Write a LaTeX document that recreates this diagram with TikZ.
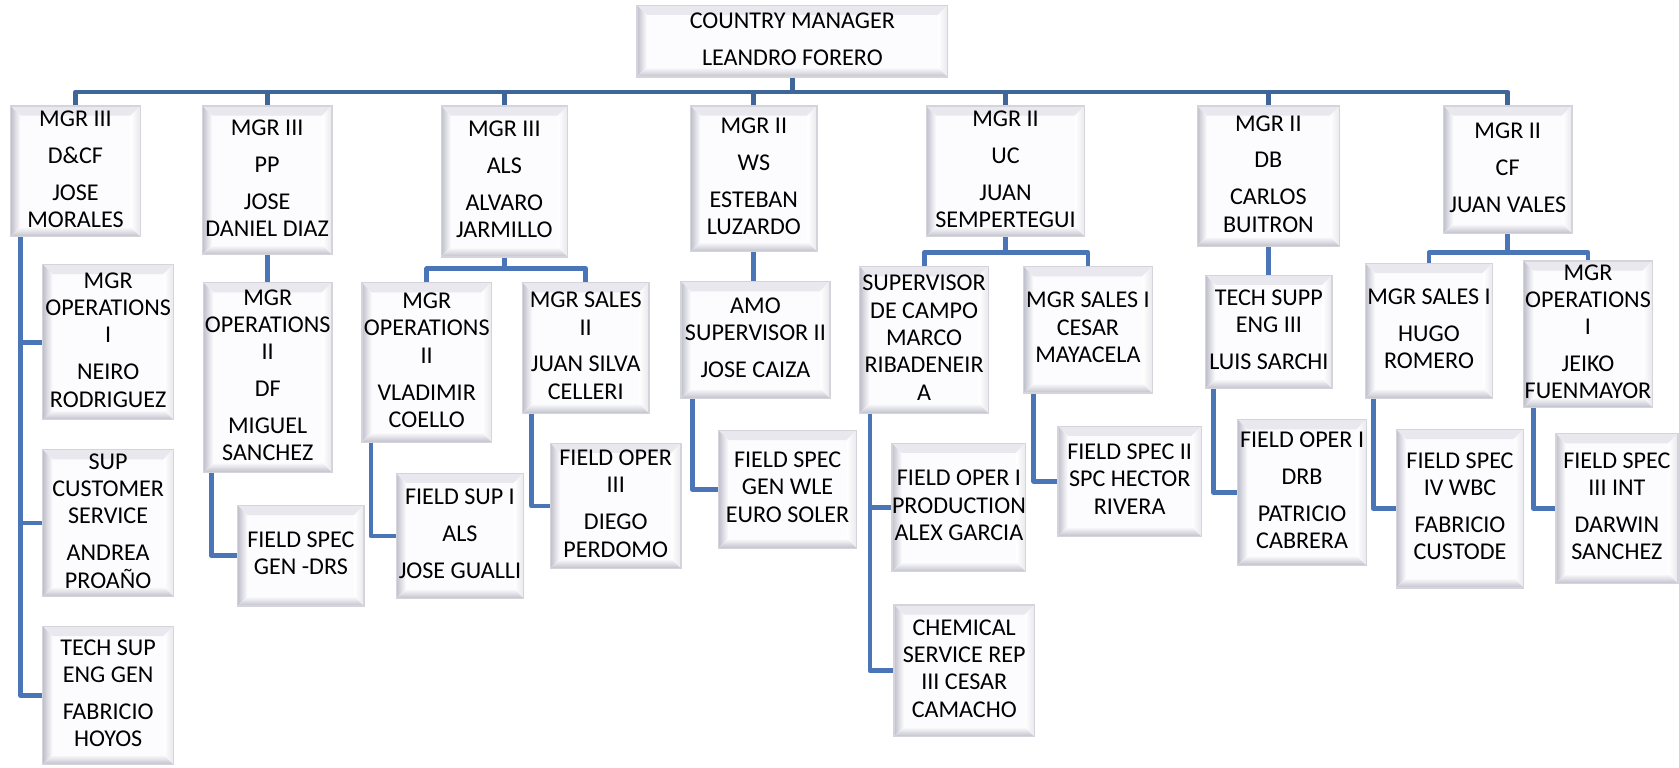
\documentclass[tikz,border=0pt]{standalone}
\usepackage{fontspec}
\setmainfont{Carlito}
\usetikzlibrary{calc}
\definecolor{bev}{RGB}{192,192,204}
\definecolor{bevlight}{RGB}{232,232,238}
\definecolor{busblue}{RGB}{62,102,152}
\definecolor{linkblue}{RGB}{74,118,184}
\definecolor{boxfill}{RGB}{252,252,254}
\definecolor{boxedge}{RGB}{212,212,218}
\tikzset{
  orgbox/.style={draw=boxedge, line width=1.2pt, fill=boxfill, inner sep=0pt,
    font=\fontsize{22.5}{25.5}\selectfont,
    path picture={
      \fill[bevlight] (path picture bounding box.north west) -- (path picture bounding box.north east)
        -- ([xshift=-9pt,yshift=-9pt]path picture bounding box.north east)
        -- ([xshift=9pt,yshift=-9pt]path picture bounding box.north west) -- cycle;
      \fill[left color=white, right color=bevlight] (path picture bounding box.north east) -- (path picture bounding box.south east)
        -- ([xshift=-9pt,yshift=9pt]path picture bounding box.south east)
        -- ([xshift=-9pt,yshift=-9pt]path picture bounding box.north east) -- cycle;
      \fill[left color=bev, right color=boxfill] (path picture bounding box.south west)
        -- ([xshift=9pt,yshift=9pt]path picture bounding box.south west)
        -- ([xshift=9pt,yshift=-9pt]path picture bounding box.north west)
        -- (path picture bounding box.north west) -- cycle;
      \fill[bottom color=bev, top color=boxfill] (path picture bounding box.south west)
        -- (path picture bounding box.south east)
        -- ([xshift=-9pt,yshift=9pt]path picture bounding box.south east)
        -- ([xshift=9pt,yshift=9pt]path picture bounding box.south west) -- cycle;
    }},
  busline/.style={busblue, line width=4.5pt, line join=round},
  link/.style={linkblue, line width=4.5pt, line join=round},
}
\newcommand\orgbox[6]{%
  \pgfmathsetmacro\obw{#4-#2}%
  \pgfmathsetmacro\obh{#5-#3}%
  \pgfmathsetmacro\obx{(#2+#4)/2}%
  \pgfmathsetmacro\oby{(#3+#5)/2}%
  \node[orgbox, minimum width=\obw pt, minimum height=\obh pt] (#1) at (\obx,\oby)
    {\makebox[0pt][c]{\begin{tabular}{@{}c@{}}#6\end{tabular}}};%
}
\newcommand\pg{\\[9pt]}
\begin{document}
\begin{tikzpicture}[x=1pt,y=-1pt]
\useasboundingbox (0,0) rectangle (1568,717);
% top
\orgbox{top}{595}{5}{885}{72}{COUNTRY MANAGER\pg LEANDRO FORERO}
% level 1
\orgbox{A}{10}{99}{131}{221}{MGR III\pg D\&CF\pg JOSE\\ MORALES}
\orgbox{B}{189}{99}{310}{238}{MGR III\pg PP\pg JOSE\\ DANIEL DIAZ}
\orgbox{C}{412}{99}{530}{240}{MGR III\pg ALS\pg ALVARO\\ JARMILLO}
\orgbox{D}{645}{99}{763}{235}{MGR II\pg WS\pg ESTEBAN\\ LUZARDO}
\orgbox{E}{865}{99}{1013}{221}{MGR II\pg UC\pg JUAN\\ SEMPERTEGUI}
\orgbox{F}{1118}{99}{1251}{230}{MGR II\pg DB\pg CARLOS\\ BUITRON}
\orgbox{G}{1348}{99}{1468}{218}{MGR II\pg CF\pg JUAN VALES}
% level 2
\orgbox{A1}{40}{247}{162}{392}{MGR\\ OPERATIONS\\ I\pg NEIRO\\ RODRIGUEZ}
\orgbox{A2}{40}{420}{162}{557}{SUP\\ CUSTOMER\\ SERVICE\pg ANDREA\\ PROAÑO}
\orgbox{A3}{40}{585}{162}{714}{TECH SUP\\ ENG GEN\pg FABRICIO\\ HOYOS}
\orgbox{B1}{190}{264}{310}{441}{MGR\\ OPERATIONS\\ II\pg DF\pg MIGUEL\\ SANCHEZ}
\orgbox{B2}{222}{472}{340}{566}{FIELD SPEC\\ GEN -DRS}
\orgbox{C1}{338}{264}{459}{413}{MGR\\ OPERATIONS\\ II\pg VLADIMIR\\ COELLO}
\orgbox{C2}{488}{264}{606}{386}{MGR SALES\\ II\pg JUAN SILVA\\ CELLERI}
\orgbox{C3}{370}{442}{489}{559}{FIELD SUP I\pg ALS\pg JOSE GUALLI}
\orgbox{C4}{514}{414}{636}{531}{FIELD OPER\\ III\pg DIEGO\\ PERDOMO}
\orgbox{D1}{636}{263}{775}{372}{AMO\\ SUPERVISOR II\pg JOSE CAIZA}
\orgbox{D2}{671}{402}{800}{512}{FIELD SPEC\\ GEN WLE\\ EURO SOLER}
\orgbox{E1}{803}{249}{923}{386}{SUPERVISOR\\ DE CAMPO\\ MARCO\\ RIBADENEIR\\ A}
\orgbox{E2}{956}{249}{1076}{367}{MGR SALES I\\ CESAR\\ MAYACELA}
\orgbox{E3}{833}{414}{958}{534}{FIELD OPER I\\ PRODUCTION\\ ALEX GARCIA}
\orgbox{E4}{835}{565}{966}{688}{CHEMICAL\\ SERVICE REP\\ III CESAR\\ CAMACHO}
\orgbox{E5}{988}{398}{1122}{501}{FIELD SPEC II\\ SPC HECTOR\\ RIVERA}
\orgbox{F1}{1126}{257}{1244}{363}{TECH SUPP\\ ENG III\pg LUIS SARCHI}
\orgbox{F2}{1156}{392}{1276}{528}{FIELD OPER I\pg DRB\pg PATRICIO\\ CABRERA}
\orgbox{G1}{1275}{246}{1394}{372}{MGR SALES I\pg HUGO\\ ROMERO}
\orgbox{G2}{1423}{246}{1543}{378}{MGR\\ OPERATIONS\\ I\pg JEIKO\\ FUENMAYOR}
\orgbox{G3}{1304}{401}{1423}{549}{FIELD SPEC\\ IV WBC\pg FABRICIO\\ CUSTODE}
\orgbox{G4}{1453}{405}{1567}{545}{FIELD SPEC\\ III INT\pg DARWIN\\ SANCHEZ}
% bus
\coordinate (bus) at (0,86);
\draw[busline] (top.south) -- (top.south |- bus);
\draw[busline] (A.north) -- (A.north |- bus) -- (G.north |- bus) -- (G.north);
\foreach \n in {B,C,D,E,F} \draw[busline] (\n.north) -- (\n.north |- bus);
% level 2 links
\draw[link] (B.south) -- (B.south |- B1.north);
\draw[link] (D.south) -- (D.south |- D1.north);
\draw[link] (F.south) -- (F.south |- F1.north);
\coordinate (cbar) at (0,251);
\draw[link] (C.south) -- (C.south |- cbar);
\draw[link] (C1.north) -- (C1.north |- cbar) -- (C2.north |- cbar) -- (C2.north);
\coordinate (ebar) at (0,236);
\draw[link] (E.south) -- (E.south |- ebar);
\draw[link] (E1.north) -- (E1.north |- ebar) -- (E2.north |- ebar) -- (E2.north);
\coordinate (gbar) at (0,236);
\draw[link] (G.south) -- (G.south |- gbar);
\draw[link] (G1.north) -- (G1.north |- gbar) -- (G2.north |- gbar) -- (G2.north);
% side chains
\draw[link] ([xshift=10pt]A.south west) |- (A1.west);
\draw[link] ([xshift=10pt]A.south west) |- (A2.west);
\draw[link] ([xshift=10pt]A.south west) |- (A3.west);
\draw[link] ([xshift=8pt]B1.south west) |- (B2.west);
\draw[link] ([xshift=9pt]C1.south west) |- (C3.west);
\draw[link] ([xshift=9pt]C2.south west) |- (C4.west);
\draw[link] ([xshift=11pt]D1.south west) |- (D2.west);
\draw[link] ([xshift=10pt]E1.south west) |- (E3.west);
\draw[link] ([xshift=10pt]E1.south west) |- (E4.west);
\draw[link] ([xshift=10pt]E2.south west) |- (E5.west);
\draw[link] ([xshift=8pt]F1.south west) |- (F2.west);
\draw[link] ([xshift=8pt]G1.south west) |- (G3.west);
\draw[link] ([xshift=10pt]G2.south west) |- (G4.west);
\end{tikzpicture}
\end{document}
